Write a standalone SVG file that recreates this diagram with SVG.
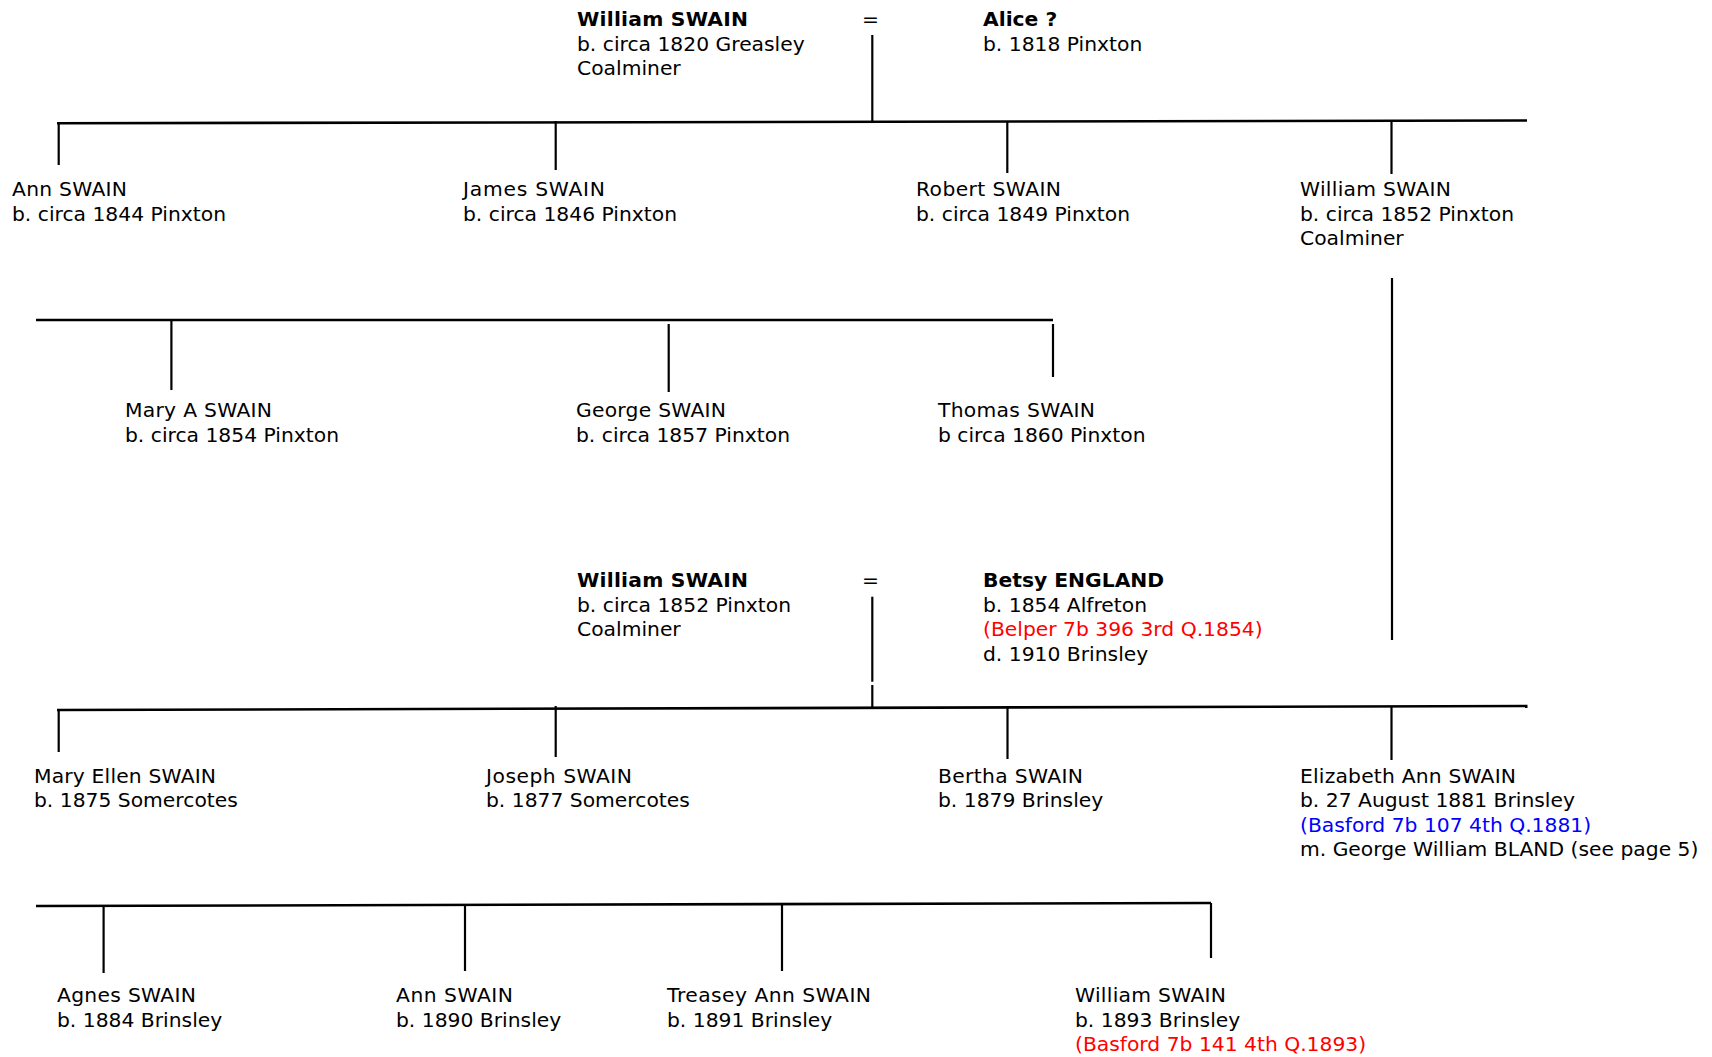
<svg xmlns="http://www.w3.org/2000/svg" width="1712" height="1057" viewBox="0 0 1712 1057">
<style>
text{font-family:"DejaVu Sans","Verdana",sans-serif;font-size:20.3px;fill:#000}
.b{font-weight:bold}
.red{fill:#ff0000}
.blue{fill:#0000ff}
.ln{stroke:#000;stroke-width:2.2;fill:none}
.bar{stroke:#000;stroke-width:2.6;fill:none}
</style>
<rect width="1712" height="1057" fill="#fff"/>
<g id="connectors">
<line class="ln" x1="872.3" y1="35" x2="872.3" y2="122"/>
<line class="bar" x1="57" y1="123.3" x2="1527" y2="120.5"/>
<line class="ln" x1="58.7" y1="123" x2="58.7" y2="165"/>
<line class="ln" x1="555.7" y1="121" x2="555.7" y2="170"/>
<line class="ln" x1="1007.3" y1="121" x2="1007.3" y2="173"/>
<line class="ln" x1="1391.5" y1="121" x2="1391.5" y2="174"/>
<line class="ln" x1="1392" y1="278" x2="1392" y2="640"/>
<line class="bar" x1="36" y1="320" x2="1053" y2="320"/>
<line class="ln" x1="171.4" y1="320" x2="171.4" y2="390"/>
<line class="ln" x1="668.7" y1="324" x2="668.7" y2="392"/>
<line class="ln" x1="1053" y1="324" x2="1053" y2="377"/>
<line class="ln" x1="872.3" y1="596.7" x2="872.3" y2="681.7"/>
<line class="ln" x1="872.3" y1="685" x2="872.3" y2="707"/>
<line class="bar" x1="57" y1="710" x2="1527.5" y2="706"/>
<line class="ln" x1="58.7" y1="710" x2="58.7" y2="752"/>
<line class="ln" x1="555.7" y1="706" x2="555.7" y2="757"/>
<line class="ln" x1="1007.5" y1="707" x2="1007.5" y2="759"/>
<line class="ln" x1="1391.5" y1="706" x2="1391.5" y2="760"/>
<line class="bar" x1="36" y1="906" x2="1211" y2="903"/>
<line class="ln" x1="103.6" y1="906" x2="103.6" y2="973"/>
<line class="ln" x1="465" y1="905" x2="465" y2="971"/>
<line class="ln" x1="782" y1="904" x2="782" y2="971"/>
<line class="ln" x1="1211" y1="903" x2="1211" y2="958"/>
</g>
<g id="william-senior">
<text x="577" y="26" class="b" textLength="171" lengthAdjust="spacing">William SWAIN</text>
<text x="577" y="50.5">b. circa 1820 Greasley</text>
<text x="577" y="75">Coalminer</text>
</g>
<g id="marriage1"><text x="862" y="26">=</text></g>
<g id="alice">
<text x="983" y="26" class="b">Alice ?</text>
<text x="983" y="50.5">b. 1818 Pinxton</text>
</g>
<g id="ann1">
<text x="12" y="196" textLength="115" lengthAdjust="spacing">Ann SWAIN</text>
<text x="12" y="220.5">b. circa 1844 Pinxton</text>
</g>
<g id="james">
<text x="463" y="196" textLength="142" lengthAdjust="spacing">James SWAIN</text>
<text x="463" y="220.5">b. circa 1846 Pinxton</text>
</g>
<g id="robert">
<text x="916" y="196" textLength="145" lengthAdjust="spacing">Robert SWAIN</text>
<text x="916" y="220.5">b. circa 1849 Pinxton</text>
</g>
<g id="william-1852">
<text x="1300" y="196" textLength="151" lengthAdjust="spacing">William SWAIN</text>
<text x="1300" y="220.5">b. circa 1852 Pinxton</text>
<text x="1300" y="245">Coalminer</text>
</g>
<g id="mary-a">
<text x="125" y="417" textLength="147" lengthAdjust="spacing">Mary A SWAIN</text>
<text x="125" y="441.5">b. circa 1854 Pinxton</text>
</g>
<g id="george">
<text x="576" y="417" textLength="150" lengthAdjust="spacing">George SWAIN</text>
<text x="576" y="441.5">b. circa 1857 Pinxton</text>
</g>
<g id="thomas">
<text x="938" y="417" textLength="157" lengthAdjust="spacing">Thomas SWAIN</text>
<text x="938" y="441.5">b circa 1860 Pinxton</text>
</g>
<g id="william-husband">
<text x="577" y="587" class="b" textLength="171" lengthAdjust="spacing">William SWAIN</text>
<text x="577" y="611.5">b. circa 1852 Pinxton</text>
<text x="577" y="636">Coalminer</text>
</g>
<g id="marriage2"><text x="862" y="587">=</text></g>
<g id="betsy">
<text x="983" y="587" class="b">Betsy ENGLAND</text>
<text x="983" y="611.5">b. 1854 Alfreton</text>
<text x="983" y="636" class="red">(Belper 7b 396 3rd Q.1854)</text>
<text x="983" y="660.5">d. 1910 Brinsley</text>
</g>
<g id="mary-ellen">
<text x="34" y="782.5" textLength="182" lengthAdjust="spacing">Mary Ellen SWAIN</text>
<text x="34" y="807">b. 1875 Somercotes</text>
</g>
<g id="joseph">
<text x="486" y="782.5" textLength="146" lengthAdjust="spacing">Joseph SWAIN</text>
<text x="486" y="807">b. 1877 Somercotes</text>
</g>
<g id="bertha">
<text x="938" y="782.5" textLength="145" lengthAdjust="spacing">Bertha SWAIN</text>
<text x="938" y="807">b. 1879 Brinsley</text>
</g>
<g id="elizabeth">
<text x="1300" y="782.5" textLength="216" lengthAdjust="spacing">Elizabeth Ann SWAIN</text>
<text x="1300" y="807">b. 27 August 1881 Brinsley</text>
<text x="1300" y="831.5" class="blue">(Basford 7b 107 4th Q.1881)</text>
<text x="1300" y="856">m. George William BLAND (see page 5)</text>
</g>
<g id="agnes">
<text x="57" y="1002" textLength="139" lengthAdjust="spacing">Agnes SWAIN</text>
<text x="57" y="1026.5">b. 1884 Brinsley</text>
</g>
<g id="ann2">
<text x="396" y="1002" textLength="117" lengthAdjust="spacing">Ann SWAIN</text>
<text x="396" y="1026.5">b. 1890 Brinsley</text>
</g>
<g id="treasey">
<text x="667" y="1002" textLength="204" lengthAdjust="spacing">Treasey Ann SWAIN</text>
<text x="667" y="1026.5">b. 1891 Brinsley</text>
</g>
<g id="william-1893">
<text x="1075" y="1002" textLength="151" lengthAdjust="spacing">William SWAIN</text>
<text x="1075" y="1026.5">b. 1893 Brinsley</text>
<text x="1075" y="1051" class="red">(Basford 7b 141 4th Q.1893)</text>
</g>
</svg>
